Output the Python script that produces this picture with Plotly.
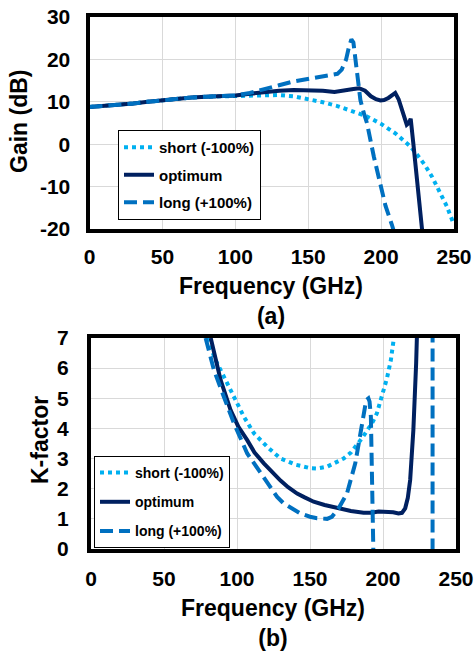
import plotly.graph_objects as go

# ---------------- Data: Gain (dB) vs Frequency (GHz) ----------------
gain_short_f = [0, 10, 20, 30, 40, 50, 60, 70, 80, 90, 100, 110, 120, 130, 140, 150, 160, 170,
                180, 190, 200, 210, 215, 220, 225, 230, 235, 240, 245, 250]
gain_short = [8.8, 9.0, 9.3, 9.6, 10.0, 10.4, 10.8, 11.0, 11.2, 11.3, 11.4, 11.5, 11.6, 11.6, 11.3,
              10.7, 9.9, 9.0, 7.9, 6.6, 4.8, 2.5, 1.0, -0.5, -2.6, -4.9, -7.7, -10.9, -14.6, -19.0]

gain_opt_f = [0, 10, 20, 30, 40, 50, 60, 70, 80, 90, 100, 110, 120, 130, 140, 150, 160, 168, 176,
              181, 185, 189, 193, 196.5, 199.5, 202, 205, 207.5, 209.7, 212, 215.5, 217.6, 219,
              220.3, 222, 224.3, 226.6, 228.5]
gain_opt = [8.8, 9.0, 9.3, 9.6, 10.0, 10.4, 10.8, 11.0, 11.2, 11.3, 11.5, 11.9, 12.3, 12.6, 12.8,
            12.8, 12.6, 12.3, 12.6, 13.0, 13.2, 12.6, 11.3, 10.6, 10.3, 10.4, 10.9, 11.6, 12.1,
            10.6, 6.5, 4.6, 5.0, 6.0, 0.5, -7.7, -14.7, -21.5]

gain_long_f = [0, 10, 20, 30, 40, 50, 60, 70, 80, 90, 100, 110, 120, 130, 140, 150, 160, 165, 170,
               173, 176, 178, 179.6, 181, 183, 185.8, 188, 190.3, 195, 199.5, 203, 207.4, 210]
gain_long = [8.8, 9.0, 9.3, 9.6, 10.0, 10.4, 10.8, 11.0, 11.2, 11.3, 11.5, 12.1, 12.9, 13.9, 14.8,
             15.4, 15.8, 16.1, 16.6, 17.6, 20.0, 23.0, 24.7, 24.0, 19.0, 10.4, 7.5, 5.0, -2.9,
             -10.0, -14.5, -19.0, -22.0]

# ---------------- Data: K-factor vs Frequency (GHz) ----------------
k_short_f = [79.7, 85, 91, 97.9, 104.7, 111.6, 120.7, 129.8, 140, 150.3, 155, 161.7, 167, 173, 178,
             182.2, 186, 190.1, 193, 195.8, 199.2, 202.7, 205.4, 207.2, 208]
k_short = [7.0, 6.3, 5.72, 5.05, 4.39, 3.84, 3.39, 3.0, 2.8, 2.68, 2.67, 2.73, 2.84, 3.0, 3.2,
           3.44, 3.7, 4.0, 4.22, 4.5, 5.05, 5.66, 6.27, 6.88, 7.2]

k_opt_f = [82, 85, 88.8, 95.6, 101, 107, 112, 118.4, 124, 129.8, 135, 141.2, 146, 152.5, 160,
           170.8, 178, 186.7, 192, 197, 202.7, 207, 210.6, 213, 215.2, 217, 218.6, 220.8, 222.7,
           223.5]
k_opt = [7.0, 6.4, 5.6, 4.61, 4.05, 3.61, 3.2, 2.84, 2.55, 2.27, 2.05, 1.84, 1.72, 1.57, 1.46,
         1.33, 1.26, 1.2, 1.2, 1.24, 1.24, 1.22, 1.18, 1.2, 1.35, 1.7, 2.29, 3.95, 6.16, 7.5]

k_long_f = [78.5, 84.2, 91, 97.9, 107, 118.4, 127.5, 132, 143.4, 150, 154.8, 161.7, 165, 169.6,
            175.3, 181, 185.6, 188.5, 190, 190.8, 191.7, 192.4, 193.5, 194.5, 200, 215, 233.9,
            234.1, 240]
k_long = [7.0, 5.94, 5.05, 4.17, 3.17, 2.4, 1.73, 1.51, 1.18, 1.07, 1.02, 1.0, 1.07, 1.35, 1.84,
          2.84, 4.17, 4.94, 5.0, 4.89, 4.39, 2.84, 0.07, -3, -20, -20, -20, 60, 60]

names = ["short (-100%)", "optimum", "long (+100%)"]
colors = ["#00B0F0", "#002060", "#0070C0"]
dashes = ["4px,4px", "solid", "13px,6px"]

x_ticks = [0, 50, 100, 150, 200, 250]
gain_ticks = [-20, -10, 0, 10, 20, 30]
gain_ticktext = ["-20", "-10", "0", "10", "20", "30"]
k_ticks = [0, 1, 2, 3, 4, 5, 6, 7]

FONT = "Liberation Sans, Arial, sans-serif"
W, H = 474, 652

fig = go.Figure()

gain_sets = [(gain_short_f, gain_short), (gain_opt_f, gain_opt), (gain_long_f, gain_long)]
k_sets = [(k_short_f, k_short), (k_opt_f, k_opt), (k_long_f, k_long)]

for i, (fx, fy) in enumerate(gain_sets):
    fig.add_trace(go.Scatter(x=fx, y=fy, mode="lines", name=names[i],
                             line=dict(color=colors[i], width=4, dash=dashes[i]),
                             xaxis="x", yaxis="y", legend="legend",
                             legendgroup="a" + str(i)))
for i, (fx, fy) in enumerate(k_sets):
    fig.add_trace(go.Scatter(x=fx, y=fy, mode="lines", name=names[i],
                             line=dict(color=colors[i], width=4, dash=dashes[i]),
                             xaxis="x2", yaxis="y2", legend="legend2",
                             legendgroup="b" + str(i)))

def px_x(p):
    return p / W

def px_y(p):
    return 1 - p / H

tickfont = dict(family=FONT, size=21, color="black", weight="bold")
axis_common = dict(showline=True, mirror=True, linewidth=4, linecolor="black",
                   showgrid=True, gridcolor="#D9D9D9", gridwidth=1, zeroline=False,
                   ticks="", tickfont=tickfont, automargin=False)

fig.update_layout(
    width=W, height=H,
    margin=dict(l=0, r=0, t=0, b=0, autoexpand=False),
    paper_bgcolor="white", plot_bgcolor="white",
    font=dict(family=FONT, color="black"),
    xaxis=dict(domain=[px_x(89.5), px_x(454)], range=[0, 250], tickvals=x_ticks,
               anchor="y", ticklabelstandoff=6, **axis_common),
    yaxis=dict(domain=[px_y(229), px_y(17)], range=[-20, 30], tickvals=gain_ticks,
               ticktext=gain_ticktext, anchor="x", ticklabelstandoff=11, **axis_common),
    xaxis2=dict(domain=[px_x(91), px_x(456)], range=[0, 250], tickvals=x_ticks,
                anchor="y2", ticklabelstandoff=8, **axis_common),
    yaxis2=dict(domain=[px_y(549), px_y(338)], range=[0, 7], tickvals=k_ticks,
                anchor="x2", ticklabelstandoff=14, **axis_common),
    legend=dict(x=px_x(118), y=px_y(130), xanchor="left", yanchor="top",
                bgcolor="white", bordercolor="black", borderwidth=1,
                font=dict(family=FONT, size=15, color="black", weight="bold"),
                tracegroupgap=5, traceorder="grouped"),
    legend2=dict(x=px_x(94), y=px_y(456), xanchor="left", yanchor="top",
                 bgcolor="white", bordercolor="black", borderwidth=1,
                 font=dict(family=FONT, size=14, color="black", weight="bold"),
                 tracegroupgap=8, traceorder="grouped"),
    showlegend=True,
)

ann_font = dict(family=FONT, size=23, color="black", weight="bold")
annotations = [
    dict(text="Frequency (GHz)<br>(a)", x=px_x(271), y=px_y(301), xref="paper", yref="paper",
         showarrow=False, font=ann_font, xanchor="center", yanchor="middle"),
    dict(text="Gain (dB)", x=px_x(19), y=px_y(121), xref="paper", yref="paper",
         showarrow=False, font=ann_font, textangle=-90, xanchor="center", yanchor="middle"),
    dict(text="Frequency (GHz)<br>(b)", x=px_x(273), y=px_y(623), xref="paper", yref="paper",
         showarrow=False, font=ann_font, xanchor="center", yanchor="middle"),
    dict(text="K-factor", x=px_x(40), y=px_y(440), xref="paper", yref="paper",
         showarrow=False, font=ann_font, textangle=-90, xanchor="center", yanchor="middle"),
]
fig.update_layout(annotations=annotations)

fig.write_html("out.html",
               config={"displayModeBar": False},
               post_script="document.body.style.margin='0';document.body.style.overflow='hidden';")
